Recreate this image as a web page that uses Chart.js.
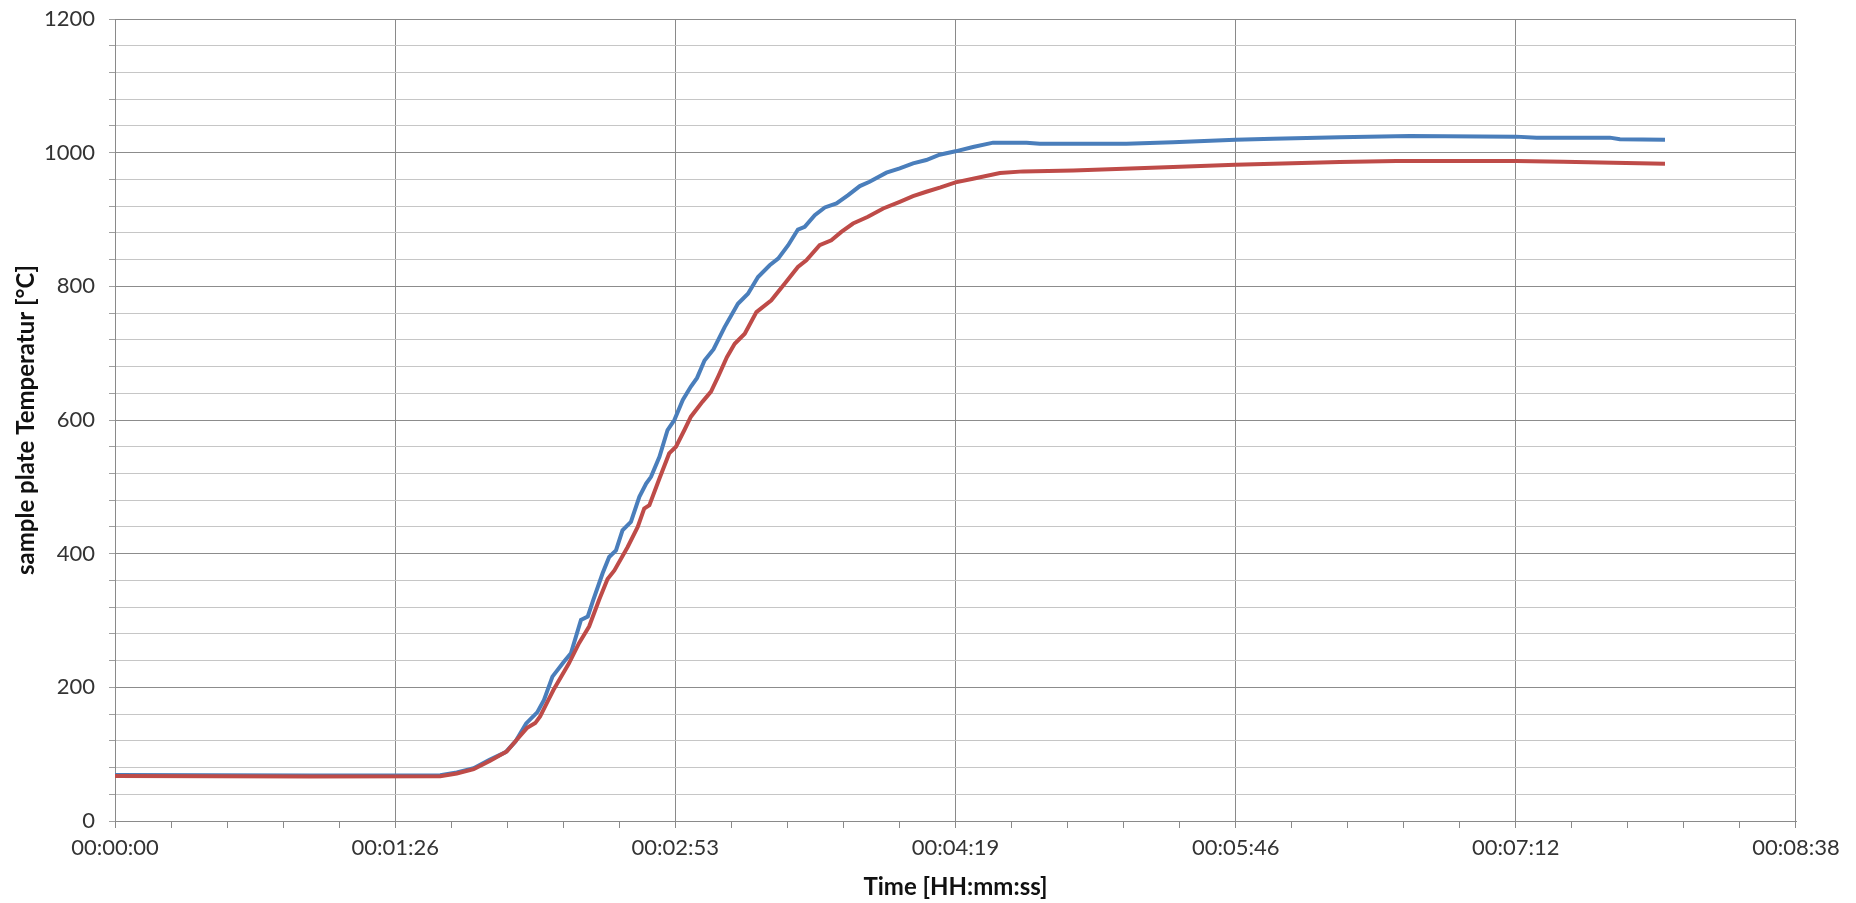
<!DOCTYPE html>
<html>
<head>
<meta charset="utf-8">
<script src="https://cdn.jsdelivr.net/npm/chart.js@4/dist/chart.umd.min.js"></script>
<style>
  html, body { margin: 0; padding: 0; background: #fff; }
  #wrap { width: 1856px; height: 903px; }
</style>
</head>
<body>
<div id="wrap"><canvas id="chart" width="1856" height="903"></canvas></div>
<script>
// time in seconds, temperature in °C
const blueTimes = [0, 30, 60, 100.3, 105.4, 108.2, 110.6, 115.5, 120.5, 123.5, 126.8, 130.2, 132.3, 134.9, 138.5,
  140.6, 143.7, 145.8, 147.5, 150.4, 152.4, 154.5, 156.5, 159.1, 161.7, 163.8, 165.3, 167.9, 170.4, 172.5,
  175.1, 177.6, 179.5, 181.8, 184.6, 188, 192.1, 195.2, 198.3, 201.9, 204.5, 207.6, 210.6, 212.7, 215.8,
  218.9, 222.5, 226.1, 229.7, 232.7, 237.9, 242, 246.1, 250.2, 254.3, 259.2, 264.6, 270.8, 281.1, 285.2,
  311.9, 326.3, 345.5, 357.2, 377.7, 399.3, 432, 438.4, 461, 464.1, 478];
const blueTemps = [69, 68.5, 68, 68.5, 72.5, 76, 79, 91.5, 103, 119, 146, 162.5, 181, 216, 238.5,
  251, 301, 306, 331, 371, 395, 405, 435, 447.5, 485, 505, 515, 545, 585, 600,
  630, 650, 663, 689, 706, 739, 774, 789, 814, 831.5, 841.5, 861.5, 885, 889, 906.5,
  918, 924, 936.5, 950, 956.5, 970, 976.5, 984, 989, 997, 1002, 1008.5, 1015, 1015, 1013.5,
  1013.5, 1015.5, 1019.5, 1021, 1023, 1025, 1024, 1022.5, 1022.5, 1020, 1019.5];

const redTimes = [0, 30, 60, 100.3, 105.4, 110.6, 115.7, 120.8, 123.9, 127, 129.6, 131.1, 133.7, 135.2, 140,
  143.1, 146.2, 149.3, 151.9, 154, 158.1, 161.2, 163.2, 164.8, 167.9, 170.9, 173, 175.6, 177.6, 181.2,
  183.8, 186, 188.7, 191.1, 194.2, 197.8, 202.4, 206.5, 210.6, 213.2, 217.3, 220.9, 224, 227.6, 232.2,
  236.9, 242, 246.1, 250.2, 254.6, 259.2, 264.6, 272.9, 280.1, 295.5, 311, 326.3, 345.5, 357.2, 377.7,
  395.2, 432, 446.6, 462, 478];
const redTemps = [67.5, 67, 66.5, 67, 71, 77.5, 90, 104, 121.5, 139, 146.5, 156.5, 181.5, 196, 236,
  266, 291, 331, 362, 375, 410, 440, 467.5, 472.5, 512.5, 550, 560, 585, 605, 627.5,
  642.5, 665, 694, 714, 729, 761.5, 779, 804, 829, 839, 861.5, 869, 881.5, 894, 904,
  916.5, 926.5, 935, 941.5, 948, 955.5, 961, 969.5, 972, 973.5, 976, 978.5, 982, 983.5, 986,
  987.5, 987.5, 986.5, 985, 983.5];

// Excel style time axis: 0.001 day = 86.4 s per major unit, 5 minor units each
const xTickLabels = ["00:00:00", "00:01:26", "00:02:53", "00:04:19", "00:05:46", "00:07:12", "00:08:38"];
const xMajor = 86.4, xMinorPerMajor = 5;
const yMax = 1200, yMajor = 200, yMinor = 40;

const FONT = "Lato, 'Open Sans', sans-serif";
const TXT = "#333333";

function toPoints(xs, ys) { return xs.map((x, i) => ({ x: x, y: ys[i] })); }

new Chart(document.getElementById("chart").getContext("2d"), {
  type: "line",
  data: {
    datasets: [
      { label: "red", data: toPoints(redTimes, redTemps), borderColor: "#BE4B48", borderWidth: 4,
        pointRadius: 0, tension: 0, fill: false },
      { label: "blue", data: toPoints(blueTimes, blueTemps), borderColor: "#4A7EBB", borderWidth: 4,
        pointRadius: 0, tension: 0, fill: false },
    ],
  },
  options: {
    responsive: false, animation: false, events: [],
    layout: { padding: { left: 0, right: 60, top: 19, bottom: 0 } },
    plugins: { legend: { display: false }, tooltip: { enabled: false } },
    scales: {
      x: {
        type: "linear", min: 0, max: xMajor * (xTickLabels.length - 1),
        afterBuildTicks: (scale) => {
          const n = (xTickLabels.length - 1) * xMinorPerMajor;
          const t = [];
          for (let i = 0; i <= n; i++) t.push({ value: i * xMajor / xMinorPerMajor });
          scale.ticks = t;
        },
        afterFit: (scale) => { scale.height = 82; scale.paddingLeft = 0; scale.paddingRight = 0; },
        ticks: {
          autoSkip: false, maxRotation: 0, padding: 7, color: TXT,
          font: { family: FONT, size: 22 },
          callback: (v, i) => (i % xMinorPerMajor === 0 ? xTickLabels[i / xMinorPerMajor] : ""),
        },
        grid: {
          color: (ctx) => (ctx.index % xMinorPerMajor === 0 ? "#8a8a8a" : "rgba(0,0,0,0)"),
          tickColor: "#8a8a8a", tickLength: 7, lineWidth: 1,
        },
        border: { color: "#8a8a8a", width: 1 },
        title: {
          display: true, text: "Time [HH:mm:ss]", color: "#111",
          font: { family: FONT, size: 24, weight: "bold" }, padding: { bottom: 1, top: 0 },
        },
      },
      y: {
        min: 0, max: yMax,
        afterBuildTicks: (scale) => {
          const t = [];
          for (let v = 0; v <= yMax; v += yMinor) t.push({ value: v });
          scale.ticks = t;
        },
        afterFit: (scale) => { scale.width = 115; scale.paddingTop = 0; scale.paddingBottom = 0; },
        ticks: {
          autoSkip: false, padding: 14, color: TXT,
          font: { family: FONT, size: 22 },
          callback: (v) => (v % yMajor === 0 ? String(v) : ""),
        },
        grid: {
          color: (ctx) => (ctx.tick && ctx.tick.value % yMajor === 0 ? "#8c8c8c" : "#c6c6c6"),
          tickColor: "#a0a0a0", tickLength: 6, lineWidth: 1,
        },
        border: { color: "#8a8a8a", width: 1 },
        title: {
          display: true, text: "sample plate Temperatur [°C]", color: "#111",
          font: { family: FONT, size: 24, weight: "bold" }, padding: { top: 12, bottom: 0 },
        },
      },
    },
  },
});
</script>
</body>
</html>
